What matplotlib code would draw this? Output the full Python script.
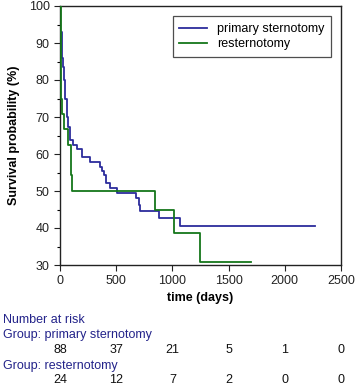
import numpy as np
import matplotlib.pyplot as plt
import matplotlib.transforms as mtransforms

plt.rcParams['font.family'] = ['Liberation Sans', 'DejaVu Sans']

# Kaplan-Meier step curves (days, survival %)
primary_t = [0, 14, 20, 27, 36, 45, 60, 74, 89, 119, 149, 194, 268, 357, 372,
             393, 411, 446, 506, 679, 699, 714, 878, 1065, 2268]
primary_s = [93, 89, 86, 83.6, 80, 75, 70, 67.4, 63.8, 62.5, 61.4, 59.2, 57.9,
             56.5, 55.5, 54.3, 52.1, 50.7, 49.5, 48.0, 46.2, 44.5, 42.6, 40.5, 40.5]

redo_t = [0, 12, 22, 36, 75, 98, 110, 848, 1012, 1244, 1696]
redo_s = [100, 75, 70.8, 66.7, 62.5, 54.2, 50, 45, 38.6, 30.8, 30.8]

risk_times = [0, 500, 1000, 1500, 2000, 2500]
risk_primary = [88, 37, 21, 5, 1, 0]
risk_redo = [24, 12, 7, 2, 0, 0]

W, H = 359, 388
fig = plt.figure(figsize=(W / 100, H / 100), dpi=100)
ax = fig.add_axes([60 / W, 1 - 265 / H, 281 / W, 259 / H])

blue = '#2c2c9c'
green = '#15761a'
ax.plot(primary_t, primary_s, drawstyle='steps-post', color=blue, lw=1.3,
        label='primary sternotomy', zorder=3)
ax.plot(redo_t, redo_s, drawstyle='steps-post', color=green, lw=1.3,
        label='resternotomy', zorder=3)

ax.set_xlim(0, 2500)
ax.set_ylim(30, 100)
ax.set_xticks(risk_times)
ax.set_yticks(np.arange(30, 101, 10))
ax.set_yticks(np.arange(35, 100, 10), minor=True)
ax.tick_params(axis='both', which='major', direction='out', length=4,
               width=0.8, labelsize=9, colors='#222222')
ax.tick_params(axis='y', which='minor', direction='out', length=2.5, width=0.8)
for sp in ax.spines.values():
    sp.set_linewidth(1.0)
    sp.set_color('#222222')

ax.set_xlabel('time (days)', fontsize=9, fontweight='bold', labelpad=3)
ax.set_ylabel('Survival probability (%)', fontsize=9, fontweight='bold', labelpad=6)

leg = ax.legend(loc='upper right', bbox_to_anchor=(0.965, 0.96), fontsize=9,
                frameon=True, fancybox=False, handlelength=2.2,
                borderpad=0.55, labelspacing=0.25, handletextpad=0.8,
                borderaxespad=0)
leg.get_frame().set_edgecolor('#222222')
leg.get_frame().set_linewidth(0.9)
leg.set_zorder(5)

# number at risk table
navy = '#23238a'
fig.text(3 / W, 1 - 320 / H, 'Number at risk', color=navy, fontsize=9, va='center')
fig.text(3 / W, 1 - 335 / H, 'Group: primary sternotomy', color=navy, fontsize=9, va='center')
fig.text(3 / W, 1 - 366 / H, 'Group: resternotomy', color=navy, fontsize=9, va='center')
trans = mtransforms.blended_transform_factory(ax.transData, fig.transFigure)
for t, a, b in zip(risk_times, risk_primary, risk_redo):
    ax.text(t, 1 - 350 / H, str(a), transform=trans, ha='center', va='center',
            fontsize=9, color='#111111', clip_on=False)
    ax.text(t, 1 - 380 / H, str(b), transform=trans, ha='center', va='center',
            fontsize=9, color='#111111', clip_on=False)

fig.savefig('out.png', dpi=100)
